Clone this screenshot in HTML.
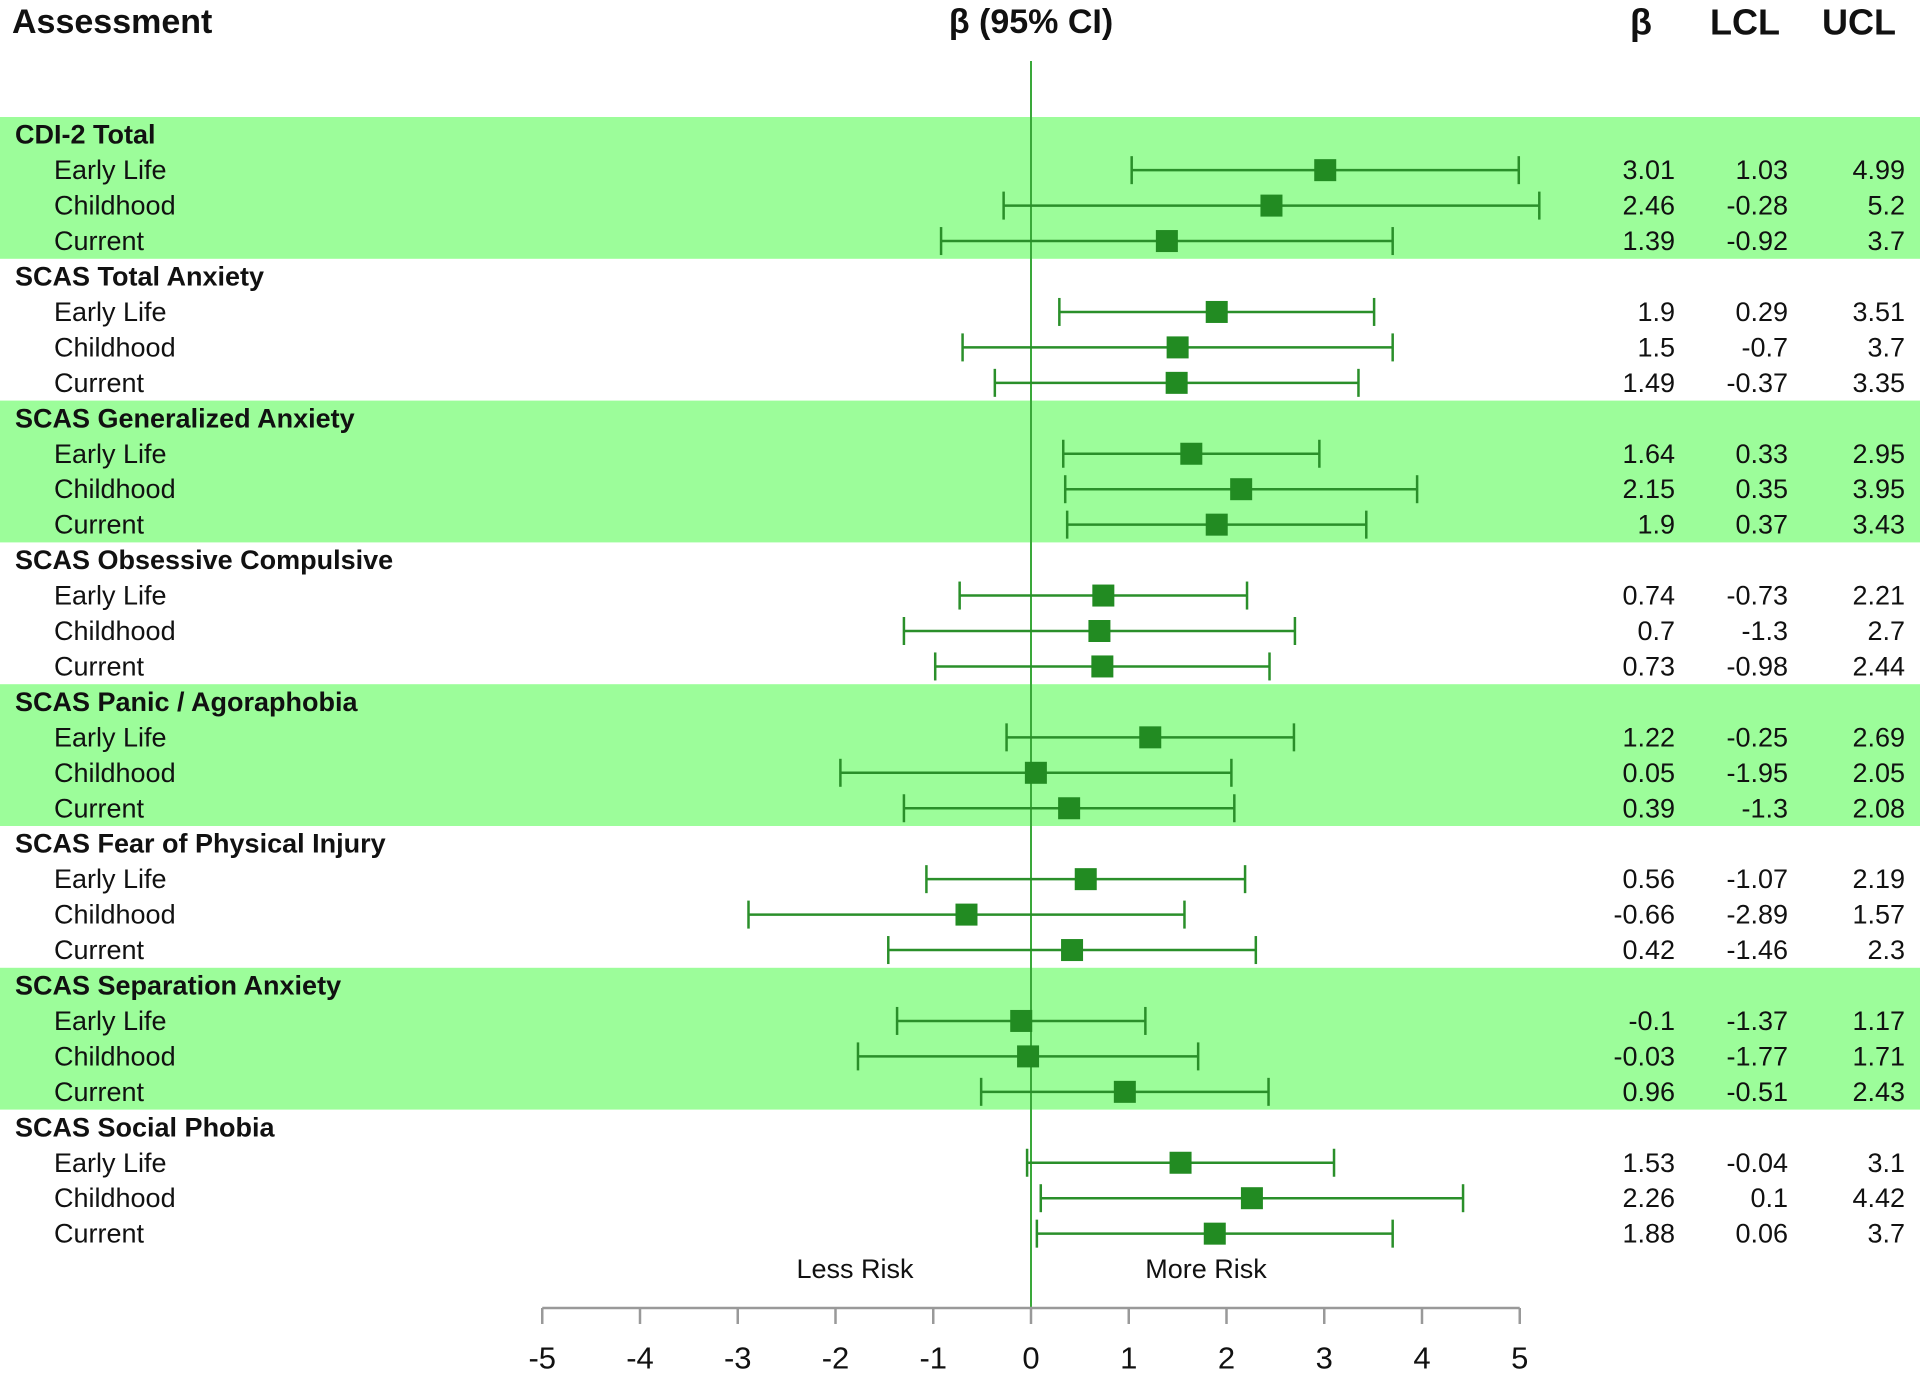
<!DOCTYPE html>
<html><head><meta charset="utf-8"><style>
html,body{margin:0;padding:0;background:#fff;}
svg{display:block;font-family:"Liberation Sans",Arial,sans-serif;}
</style></head><body>
<svg id="chart" width="1920" height="1373" viewBox="0 0 1920 1373"></svg>
<script>
const groups = ["CDI-2 Total","SCAS Total Anxiety","SCAS Generalized Anxiety","SCAS Obsessive Compulsive","SCAS Panic / Agoraphobia","SCAS Fear of Physical Injury","SCAS Separation Anxiety","SCAS Social Phobia"];
const periods = ["Early Life","Childhood","Current"];
const betaVals = [3.01,2.46,1.39, 1.9,1.5,1.49, 1.64,2.15,1.9, 0.74,0.7,0.73, 1.22,0.05,0.39, 0.56,-0.66,0.42, -0.1,-0.03,0.96, 1.53,2.26,1.88];
const lclVals = [1.03,-0.28,-0.92, 0.29,-0.7,-0.37, 0.33,0.35,0.37, -0.73,-1.3,-0.98, -0.25,-1.95,-1.3, -1.07,-2.89,-1.46, -1.37,-1.77,-0.51, -0.04,0.1,0.06];
const uclVals = [4.99,5.2,3.7, 3.51,3.7,3.35, 2.95,3.95,3.43, 2.21,2.7,2.44, 2.69,2.05,2.08, 2.19,1.57,2.3, 1.17,1.71,2.43, 3.1,4.42,3.7];
const ticks = [-5,-4,-3,-2,-1,0,1,2,3,4,5];

const NS="http://www.w3.org/2000/svg";
const svg=document.getElementById('chart');
const x0=1031, unit=97.75;
const xs=v=>x0+v*unit;
const rowH=35.45, firstY=134.7;
const ys=i=>firstY+i*rowH;
function mk(tag,attrs,parent){const e=document.createElementNS(NS,tag);for(const k in attrs)e.setAttribute(k,attrs[k]);(parent||svg).appendChild(e);return e;}
function txt(s,x,y,o){const e=mk('text',Object.assign({x:x,y:y,'dominant-baseline':'central','font-size':27,fill:'#111'},o||{}));e.textContent=s;return e;}

groups.forEach((g,gi)=>{
  if(gi%2===0){
    const r=mk('rect',{x:0,y:ys(gi*4)-17.7,width:1920,height:rowH*4,fill:'#9cfd9a'});
    
    
  }
});
let h=txt('Assessment',12,22,{'font-weight':'bold','font-size':34});

h=txt('β (95% CI)',1031,22,{'font-weight':'bold','font-size':34,'text-anchor':'middle'});

h=txt('β',1641,22,{'font-weight':'bold','font-size':36,'text-anchor':'middle'});

h=txt('LCL',1745,22,{'font-weight':'bold','font-size':36,'text-anchor':'middle'});

h=txt('UCL',1859,22,{'font-weight':'bold','font-size':36,'text-anchor':'middle'});


const zl=mk('line',{x1:xs(0),x2:xs(0),y1:61,y2:1308,stroke:'#3aa83a','stroke-width':2});


groups.forEach((g,gi)=>{
  const gt=txt(g,15,ys(gi*4),{'font-weight':'bold'});
  
  
  periods.forEach((p,pi)=>{
    const k=gi*3+pi, y=ys(gi*4+pi+1);
    const pl=txt(p,54,y);
    
    
    const ci=mk('g',{stroke:'#2a8f2a','stroke-width':2.5,fill:'none'});
    
    
    mk('line',{x1:xs(lclVals[k]),x2:xs(uclVals[k]),y1:y,y2:y},ci);
    mk('line',{x1:xs(lclVals[k]),x2:xs(lclVals[k]),y1:y-14,y2:y+14},ci);
    mk('line',{x1:xs(uclVals[k]),x2:xs(uclVals[k]),y1:y-14,y2:y+14},ci);
    const m=mk('rect',{x:xs(betaVals[k])-11,y:y-11,width:22,height:22,fill:'#228b22'});
    
    
    let t=txt(String(betaVals[k]),1675,y,{'text-anchor':'end'});
    
    t=txt(String(lclVals[k]),1788,y,{'text-anchor':'end'});
    
    t=txt(String(uclVals[k]),1905,y,{'text-anchor':'end'});
    
  });
});

let lr=txt('Less Risk',855,1269,{'text-anchor':'middle'});

lr=txt('More Risk',1206,1269,{'text-anchor':'middle'});


const ax=mk('g',{stroke:'#999','stroke-width':2.5});

mk('line',{x1:xs(ticks[0]),x2:xs(ticks[ticks.length-1]),y1:1308,y2:1308},ax);
ticks.forEach(t=>{
  const tl=mk('line',{x1:xs(t),x2:xs(t),y1:1308,y2:1324},ax);
  
  
  const lb=txt(String(t),xs(t),1358,{'text-anchor':'middle','font-size':31});
  
  
});
</script>
</body></html>
